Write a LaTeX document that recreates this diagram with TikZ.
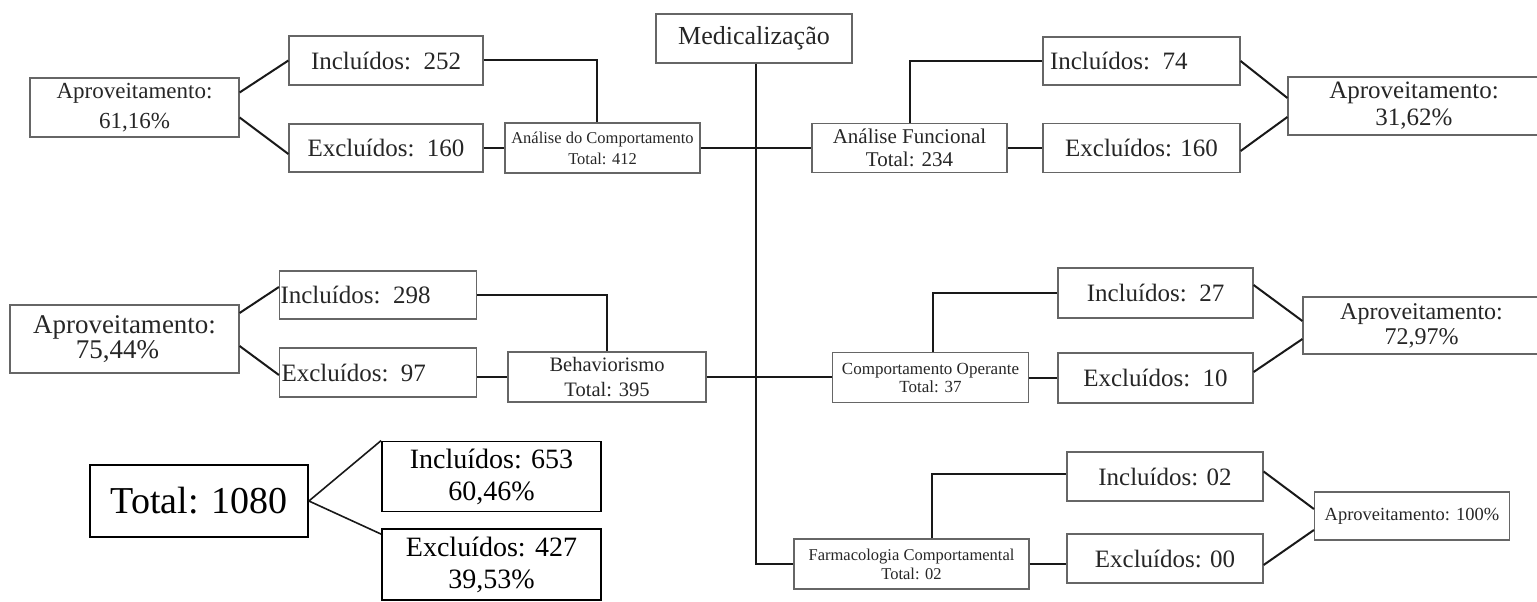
\documentclass[tikz,border=0pt]{standalone}
\usepackage{fontspec}
\setmainfont{Liberation Serif}
\usetikzlibrary{calc}
\tikzset{
  bx/.style={draw=black!60, line width=1.2pt, inner sep=0pt, align=center, text=black!85},
  bxk/.style={draw=black, line width=1.8pt, inner sep=0pt, align=center, text=black},
  ln/.style={draw=black!90, line width=2pt},
  f/.style 2 args={font=\fontsize{#1}{#2}\selectfont},
  sz/.style 2 args={minimum width=#1pt, minimum height=#2pt},
}
\begin{document}
\begin{tikzpicture}[x=1pt,y=-1pt]
\useasboundingbox (0,0) rectangle (1537,602);
% centre
\node[bx, sz={196}{49}, f={26}{30}] (med) at (754,38.5) {Medicaliza\c{c}\~ao};
% top left
\node[bx, sz={209}{59}, f={23}{30}] (ap1) at (134.5,107.5) {Aproveitamento:\\61,16\%};
\node[bx, sz={194}{49}, f={25}{30}] (in1) at (386,60.5) {Inclu\'{\i}dos:\ \ 252};
\node[bx, sz={194}{48}, f={25}{30}] (ex1) at (386,148) {Exclu\'{\i}dos:\ \ 160};
\node[bx, sz={195}{50}, f={16.5}{21}] (adc) at (602.5,148) {An\'alise do Comportamento\\Total: 412};
% top right
\node[bx, sz={195}{49}, f={21}{23}] (af) at (909.5,148) {An\'alise Funcional\\Total: 234};
\node[bx, sz={197}{48}, f={25}{30}, text width=183pt, align=left, inner xsep=7pt] (in2) at (1141.5,61) {Inclu\'{\i}dos: 74};
\node[bx, sz={197}{49}, f={25}{30}] (ex2) at (1141.5,148) {Exclu\'{\i}dos: 160};
\node[bx, sz={252}{58}, f={25}{27}] (ap2) at (1414,106) {Aproveitamento:\\31,62\%};
% middle left
\node[bx, sz={229}{68}, f={27}{26}] (ap3) at (124.5,339) {Aproveitamento:\\[-1pt]\hspace*{-14pt}75,44\%};
\node[bx, sz={197}{48}, f={25}{30}, text width=195pt, align=left, inner xsep=1pt] (in3) at (378,295) {Inclu\'{\i}dos: 298};
\node[bx, sz={197}{49}, f={25}{30}, text width=193pt, align=left, inner xsep=2pt] (ex3) at (378,372.5) {Exclu\'{\i}dos: 97};
\node[bx, sz={198}{50}, f={20.5}{25}] (beh) at (607,377) {Behaviorismo\\Total: 395};
% middle right
\node[bx, sz={196}{50}, f={17}{18}] (co) at (930.5,377.5) {Comportamento Operante\\Total: 37};
\node[bx, sz={195}{50}, f={25}{30}] (in4) at (1155.5,293) {Inclu\'{\i}dos:\ \ 27};
\node[bx, sz={195}{50}, f={25}{30}] (ex4) at (1155.5,378) {Exclu\'{\i}dos:\ \ 10};
\node[bx, sz={237}{57}, f={24}{25}] (ap4) at (1421.5,325.5) {Aproveitamento:\\72,97\%};
% bottom right
\node[bx, sz={235}{50}, f={16.5}{19}] (farm) at (911.5,564) {Farmacologia Comportamental\\Total: 02};
\node[bx, sz={196}{49}, f={25}{30}] (in5) at (1165,476.5) {Inclu\'{\i}dos: 02};
\node[bx, sz={196}{49}, f={25}{30}] (ex5) at (1165,558.5) {Exclu\'{\i}dos: 00};
\node[bx, sz={195}{48}, f={18.5}{22}] (ap5) at (1412,516) {Aproveitamento: 100\%};
% bottom left totals
\node[bxk, sz={218}{72}, f={38}{40}] (tot) at (199,501) {Total: 1080};
\node[bxk, sz={219}{70}, f={28}{32}] (in6) at (491.5,476.5) {Inclu\'{\i}dos: 653\\60,46\%};
\node[bxk, sz={219}{71}, f={28}{32}] (ex6) at (491.5,564.5) {Exclu\'{\i}dos: 427\\39,53\%};

% connectors
\draw[ln] ([yshift=15pt]ap1.east) -- (in1.west);
\draw[ln] ([yshift=-10pt]ap1.east) -- ([yshift=-6pt]ex1.west);
\draw[ln] (in1.east) -| ([xshift=-6pt]adc.north);
\draw[ln] (ex1.east) -- (adc.west);
\draw[ln] (adc.east) -- (af.west);
\draw[ln] (af.north) |- (in2.west);
\draw[ln] (af.east) -- (ex2.west);
\draw[ln] (in2.east) -- ([yshift=8pt]ap2.west);
\draw[ln] ([yshift=-3pt]ex2.east) -- ([yshift=-11pt]ap2.west);

\draw[ln] ([yshift=26pt]ap3.east) -- ([yshift=8pt]in3.west);
\draw[ln] ([yshift=-7pt]ap3.east) -- ([yshift=-2.5pt]ex3.west);
\draw[ln] (in3.east) -| (beh.north);
\draw[ln] (beh.west -| ex3.east) -- (beh.west);
\draw[ln] (beh.east) -- (beh.east -| co.west);
\draw[ln] ([xshift=2.5pt]co.north) |- (in4.west);
\draw[ln] (co.east) -- (co.east -| ex4.west);
\draw[ln] ([yshift=8pt]in4.east) -- ([yshift=4.5pt]ap4.west);
\draw[ln] ([yshift=6pt]ex4.east) -- ([yshift=-13.5pt]ap4.west);

\draw[ln] ([xshift=2pt]med.south) |- (farm.west);
\draw[ln] ([xshift=20.5pt]farm.north) |- ([yshift=3pt]in5.west);
\draw[ln] (farm.east) -- (farm.east -| ex5.west);
\draw[ln] ([yshift=5pt]in5.east) -- ([yshift=7pt]ap5.west);
\draw[ln] ([yshift=-6.5pt]ex5.east) -- ([yshift=-14pt]ap5.west);

\draw[ln, line width=1.6pt] (tot.east) -- (in6.north west);
\draw[ln, line width=1.6pt] (tot.east) -- ([yshift=-6pt]ex6.north west);
\end{tikzpicture}
\end{document}
